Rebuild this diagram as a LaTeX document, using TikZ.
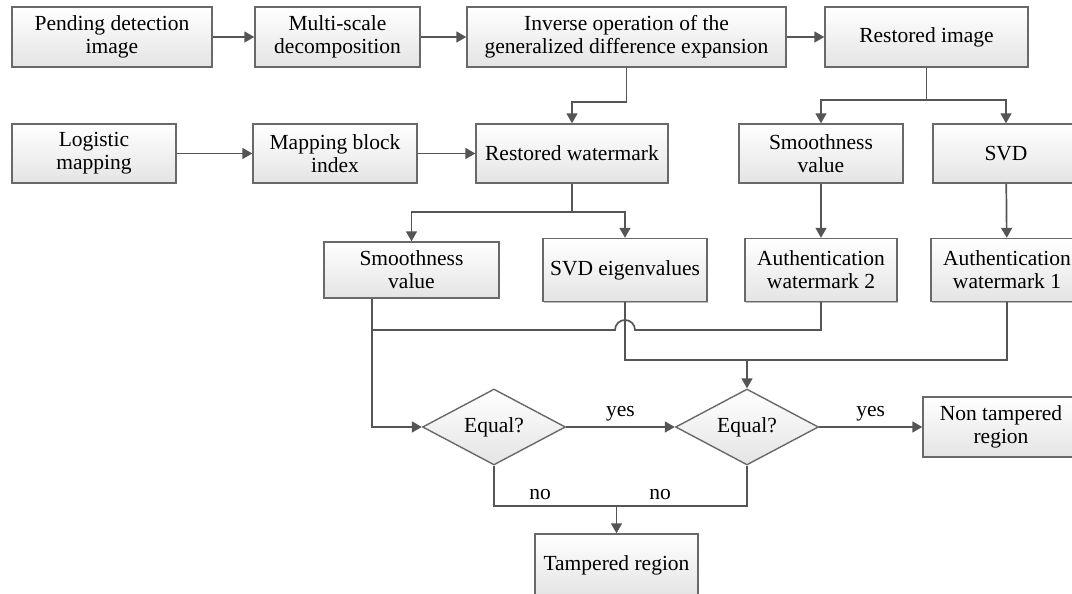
\documentclass[tikz,border=0pt]{standalone}
\usepackage{fontspec}
\setmainfont{Liberation Serif}
\usetikzlibrary{shapes.geometric, arrows.meta, shadows}
\definecolor{boxline}{RGB}{105, 105, 105}
\definecolor{flowline}{RGB}{85, 85, 85}
\definecolor{boxfill}{RGB}{228, 228, 228}
\tikzset{
    every node/.style={font=\fontsize{21.5}{23}\selectfont},
    procbox/.style={draw=boxline, line width=1.4pt, top color=white,
        bottom color=boxfill, align=center, inner sep=2pt,
        drop shadow={shadow xshift=1.2pt, shadow yshift=-1.2pt,
            fill=black!45, opacity=.6}},
    decision/.style={diamond, draw=boxline, line width=1.4pt, top color=white,
        bottom color=boxfill, inner sep=0pt, aspect=1.88,
        minimum width=143pt, minimum height=76pt},
    flow/.style={draw=flowline, line width=1.7pt},
    arr/.style={flow, -{Triangle[length=10pt, width=11pt]}},
}

\begin{document}
\begin{tikzpicture}[x=1pt, y=1pt]
    \useasboundingbox (0, 0) rectangle (1072, 594);
    % top row
    \node[procbox, minimum width=200pt, minimum height=60pt] (pending)
        at (112, 557) {Pending detection\\image};
    \node[procbox, minimum width=165pt, minimum height=60pt] (msdec)
        at (337.5, 557) {Multi-scale\\decomposition};
    \node[procbox, minimum width=319pt, minimum height=60pt] (inverse)
        at (626.5, 557) {Inverse operation of the\\generalized difference expansion};
    \node[procbox, minimum width=203pt, minimum height=60pt] (restimg)
        at (926.5, 557) {Restored image};
    % second row
    \node[procbox, minimum width=164pt, minimum height=59pt] (logistic)
        at (94, 440.5) {Logistic\\mapping};
    \node[procbox, minimum width=164pt, minimum height=59pt] (mapidx)
        at (335, 440.5) {Mapping block\\index};
    \node[procbox, minimum width=192pt, minimum height=59pt] (restwm)
        at (572, 440.5) {Restored watermark};
    \node[procbox, minimum width=164pt, minimum height=59pt] (smoothr)
        at (821, 440.5) {Smoothness\\value};
    \node[procbox, minimum width=146pt, minimum height=59pt] (svd)
        at (1006, 440.5) {SVD};
    % third row
    \node[procbox, minimum width=175pt, minimum height=56pt] (smoothl)
        at (411.5, 324) {Smoothness\\value};
    \node[procbox, minimum width=164pt, minimum height=63pt] (svdeig)
        at (625, 324) {SVD eigenvalues};
    \node[procbox, minimum width=152pt, minimum height=63pt] (auth2)
        at (821, 324) {Authentication\\watermark 2};
    \node[procbox, minimum width=152pt, minimum height=63pt] (auth1)
        at (1007, 324) {Authentication\\watermark 1};
    % decisions and results
    \node[decision] (eqa) at (494, 167) {Equal?};
    \node[decision] (eqb) at (747, 167) {Equal?};
    \node[procbox, minimum width=156pt, minimum height=60pt] (nontamp)
        at (1001, 167) {Non tampered\\region};
    \node[procbox, minimum width=163pt, minimum height=62pt] (tamp)
        at (616.5, 29) {Tampered region};

    \coordinate (imgsplit) at (926.5, 494);
    \coordinate (wmsplit) at (572, 382);
    \coordinate (smjoin) at (372, 264);
    \coordinate (svdjoin) at (747, 234);
    \coordinate (nojoin) at (616.5, 88);

    \draw[arr] (pending) -- (msdec);
    \draw[arr] (msdec) -- (inverse);
    \draw[arr] (inverse) -- (restimg);
    \draw[arr] (inverse.south) |- ++(0, -34) -| (restwm.north);
    \draw[flow] (restimg.south) -- (imgsplit);
    \draw[arr] (imgsplit) -| (smoothr.north);
    \draw[arr] (imgsplit) -| (svd.north);
    \draw[arr] (logistic) -- (mapidx);
    \draw[arr] (mapidx) -- (restwm);
    \draw[flow] (restwm.south) -- (wmsplit);
    \draw[arr] (wmsplit) -| (smoothl.north);
    \draw[arr] (wmsplit) -| (svdeig.north);
    \draw[arr] (smoothr) -- (auth2);
    \draw[arr] (svd) -- (auth1);

    % smoothness comparison, hopping over the eigenvalue line
    \draw[arr] ([xshift=-39.5pt]smoothl.south) |- (eqa.west);
    \draw[flow] (auth2.south) |- (635, 264)
        arc[start angle=0, end angle=180, radius=10] -- (smjoin);
    \draw[flow] (svdeig.south) |- (svdjoin) -| (auth1.south);
    \draw[arr] (svdjoin) -- (eqb.north);

    \draw[arr] (eqa) -- node[above=2pt] {yes} (eqb);
    \draw[arr] (eqb) -- node[above=2pt] {yes} (nontamp);
    \draw[flow] (eqa.south) |- (nojoin) -| (eqb.south);
    \draw[arr] (nojoin) -- (tamp.north);
    \node (noa) at (540, 99) {no};
    \node (nob) at (660, 99) {no};
\end{tikzpicture}
\end{document}
